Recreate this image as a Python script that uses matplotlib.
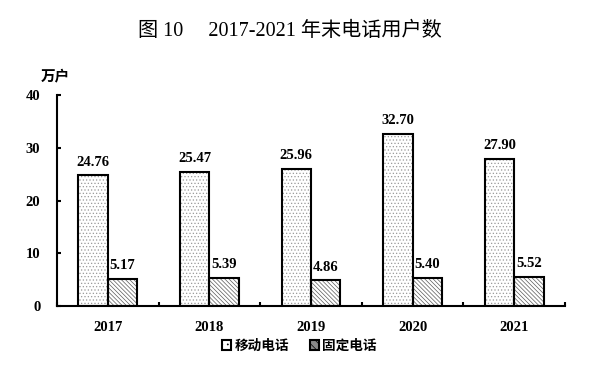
import matplotlib
matplotlib.use("Agg")
import matplotlib.pyplot as plt
import numpy as np
from matplotlib.patches import Patch

years = ["2017", "2018", "2019", "2020", "2021"]
mobile = [24.76, 25.47, 25.96, 32.70, 27.90]
fixed = [5.17, 5.39, 4.86, 5.40, 5.52]
series_names = ["移动电话", "固定电话"]
title = "图 10\u3000 2017-2021 年末电话用户数"
unit = "万户"

plt.rcParams['hatch.linewidth'] = 0.5
fig = plt.figure(figsize=(6.09, 3.73), dpi=100)
ax = fig.add_axes([57/609, 1-306/373, (565-57)/609, (306-95)/373])

x = np.arange(len(years))
w = 0.29
# hatch layers (coloured hatch), then black outlines
ax.bar(x - w/2, mobile, w, facecolor='white', edgecolor='#9a9a9a', linewidth=0,
       hatch='.....')
ax.bar(x + w/2, fixed, w, facecolor='white', edgecolor='#5a5a5a', linewidth=0,
       hatch='\\\\\\\\\\\\\\\\')
ax.bar(x - w/2, mobile, w, facecolor='none', edgecolor='black', linewidth=1.5)
ax.bar(x + w/2, fixed, w, facecolor='none', edgecolor='black', linewidth=1.5)

serif = ['Liberation Serif', 'Noto Sans CJK SC']
for xi, v in zip(x, mobile):
    ax.text(xi - w/2, v + 1.3, f"{v:.2f}", ha='center', va='bottom', fontsize=10.5,
            fontweight='bold', family=serif)
for xi, v in zip(x, fixed):
    ax.text(xi + w/2, v + 1.3, f"{v:.2f}", ha='center', va='bottom', fontsize=10.5,
            fontweight='bold', family=serif)

ax.set_xlim(-0.5, len(years) - 0.5)
ax.set_ylim(0, 40)
ax.set_yticks([0, 10, 20, 30, 40])
ax.set_yticklabels(["0", "10", "20", "30", "40"], family=serif, fontweight='bold', fontsize=10.5)
ax.set_xticks(x)
ax.set_xticklabels(years, family=serif, fontweight='bold', fontsize=10.5)
ax.tick_params(axis='x', length=0, pad=11)
ax.set_xticks(np.arange(len(years) + 1) - 0.5, minor=True)
ax.tick_params(axis='x', which='minor', direction='in', length=3, width=1.5)
ax.tick_params(axis='y', direction='in', length=3, width=1.5, pad=12)
for s in ['top', 'right']:
    ax.spines[s].set_visible(False)
for s in ['left', 'bottom']:
    ax.spines[s].set_linewidth(1.5)

fig.text(0.476, 1 - 31/373, title, ha='center', va='center', fontsize=14.5,
         family=['Liberation Serif', 'Noto Sans CJK SC'])
fig.text(55/609, 1 - 75/373, unit, ha='center', va='center', fontsize=10.5,
         fontweight='bold', family=['Noto Sans CJK SC'])

# legend proxies
h1 = Patch(facecolor='white', edgecolor='black', linewidth=1.5, hatch='...')
h2 = Patch(facecolor='#888888', edgecolor='black', linewidth=1.5, hatch='\\\\\\\\')
leg = ax.legend([h1, h2], series_names, loc='upper center', bbox_to_anchor=(0.477, -0.098),
                ncol=2, frameon=False,
                prop={'family': ['Noto Sans CJK SC'], 'weight': 'bold', 'size': 9.8},
                handlelength=0.7, handleheight=0.7, handletextpad=0.25, columnspacing=1.5)

fig.savefig("out.png", dpi=100)
